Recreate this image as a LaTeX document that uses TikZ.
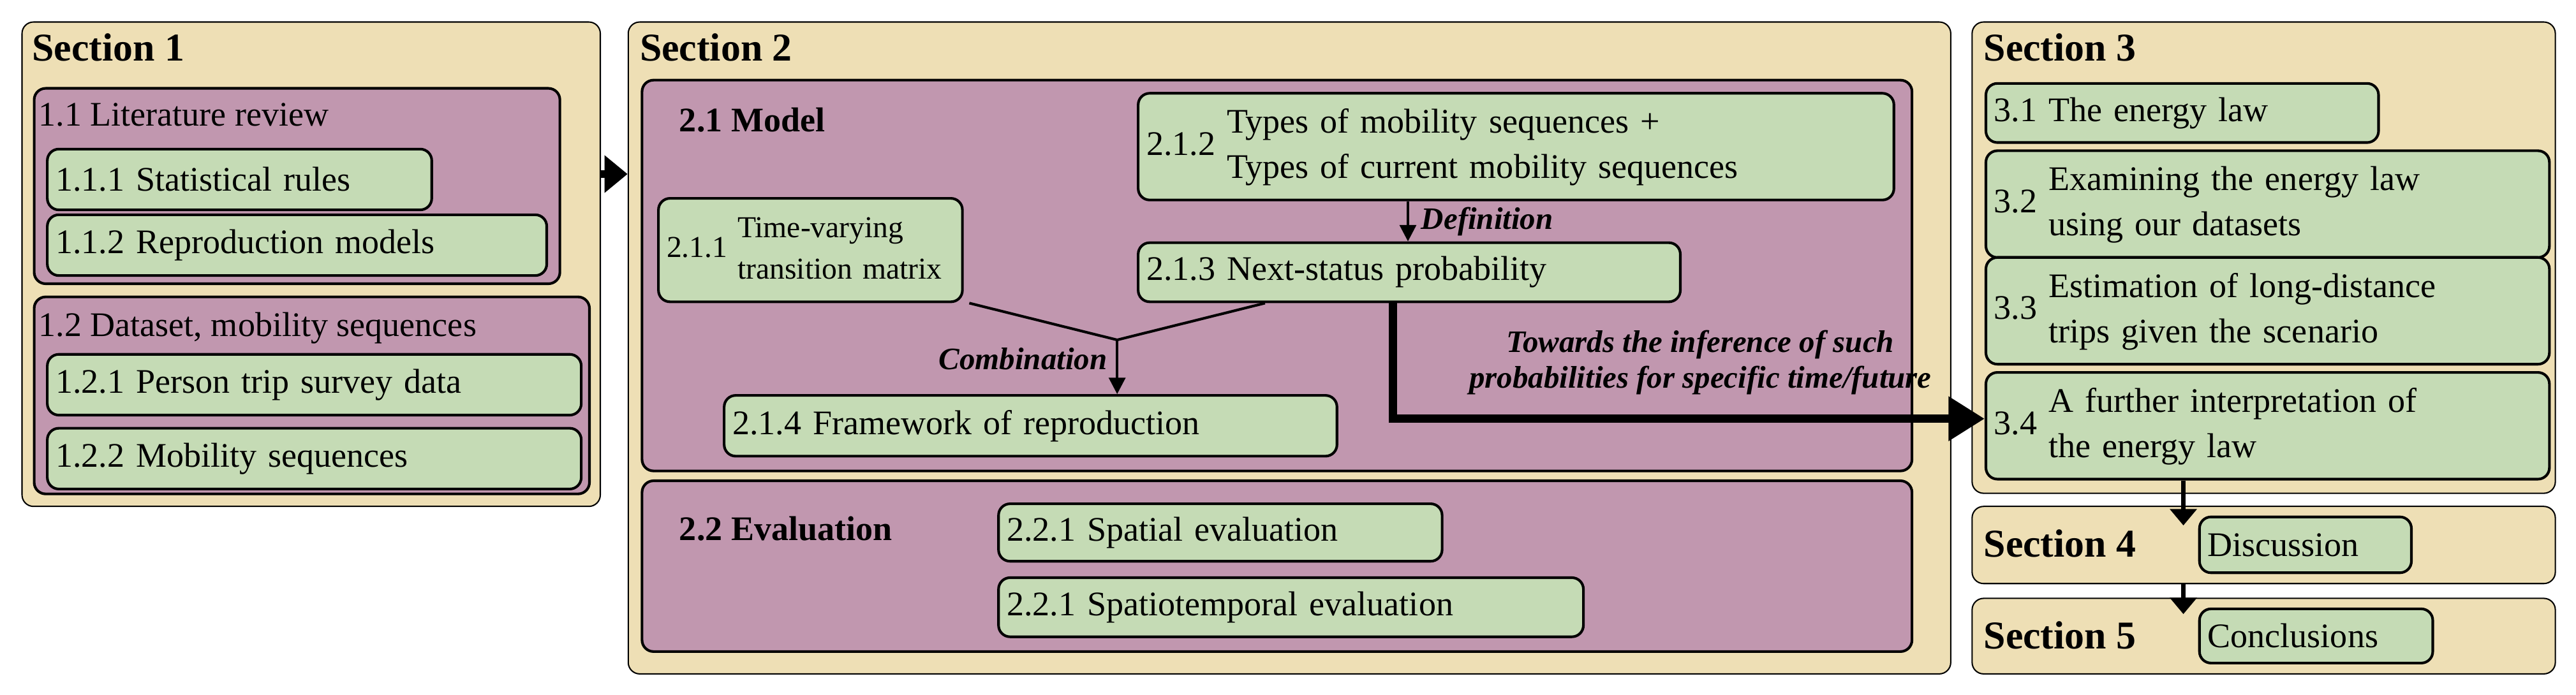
\documentclass[tikz,border=0pt]{standalone}
\usepackage{fontspec}
\setmainfont{Liberation Serif}
\usetikzlibrary{arrows.meta}
\definecolor{tan}{HTML}{EEDFB5}
\definecolor{pur}{HTML}{C197AF}
\definecolor{grn}{HTML}{C5DBB5}
\newcommand\two[3]{#1~\begin{tabular}[c]{@{}l@{}}#2\\#3\end{tabular}}
\begin{document}
\begin{tikzpicture}[x=1pt,y=-1pt,
  box/.style={draw=black,line width=1.6pt,rounded corners=7pt,anchor=north west,inner sep=0pt},
  sec/.style={box,fill=tan,line width=0.8pt},
  mid/.style={box,fill=pur},
  leaf/.style={draw=black,line width=1.6pt,rounded corners=7pt,fill=grn,anchor=north west,inner sep=5pt,align=left,font=\fontsize{21}{25}\selectfont},
  stitle/.style={anchor=west,font=\fontsize{24}{28}\selectfont\bfseries},
  mtitle/.style={anchor=west,font=\fontsize{21}{25}\selectfont},
  lab/.style={font=\fontsize{19}{22}\selectfont\bfseries\itshape},
  arr/.style={-{Triangle[length=10pt,width=10pt]},line width=1.6pt},
  big/.style={-{Triangle[length=22pt,width=26pt]},line width=5pt}]
\renewcommand\arraystretch{1.1}
\useasboundingbox (0,0) rectangle (1568,423);
% Section 1
\node[sec,minimum width=352,minimum height=295] (s1) at (13,13) {};
\node[stitle] (s1t) at (16,29) {Section 1};
\node[mid,minimum width=320,minimum height=119] (m11) at (20,53) {};
\node[mtitle] (m11t) at (20,70) {1.1 Literature review};
\node[leaf,text width=224,minimum height=37] (l111) at (28,90) {1.1.1 Statistical rules};
\node[leaf,text width=294,minimum height=37] (l112) at (28,130) {1.1.2 Reproduction models};
\node[mid,minimum width=338,minimum height=120] (m12) at (20,180) {};
\node[mtitle] (m12t) at (20,200) {1.2 Dataset, mobility sequences};
\node[leaf,text width=315,minimum height=37] (l121) at (28,215) {1.2.1 Person trip survey data};
\node[leaf,text width=315,minimum height=37] (l122) at (28,260) {1.2.2 Mobility sequences};
% Section 2
\node[sec,minimum width=805,minimum height=397] (s2) at (382,13) {};
\node[stitle] (s2t) at (386,29) {Section 2};
\draw[line width=5pt,-{Triangle[length=14pt,width=22pt]}] (s1.east |- 0,106) -- (s2.west |- 0,106);
\node[mid,minimum width=773,minimum height=238] (m21) at (390,48) {};
\node[stitle,font=\fontsize{21}{25}\selectfont\bfseries] (m21t) at (410,73) {2.1 Model};
\node[leaf,text width=450,minimum height=64] (l212) at (692,56) {\two{2.1.2}{Types of mobility sequences +}{Types of current mobility sequences}};
\node[leaf,text width=175,minimum height=63,font=\fontsize{18.5}{23}\selectfont] (l211) at (400,120) {\two{2.1.1}{Time-varying}{transition matrix}};
\node[leaf,text width=320,minimum height=36] (l213) at (692,147) {2.1.3 Next-status probability};
\node[leaf,text width=363,minimum height=37] (l214) at (440,240) {2.1.4 Framework of reproduction};
\draw[arr] (l212.south -| 857,0) -- (l213.north -| 857,0) node[lab,midway,right=4pt] (def) {Definition};
\coordinate (j) at (680,207);
\draw[line width=1.6pt] (l211.south -| 590,0) -- (j) -- (l213.south -| 770,0);
\draw[arr] (j) -- (l214.north -| 680,0) node[lab,pos=0.35,left=2pt] (comb) {Combination};
\node[mid,minimum width=773,minimum height=104] (m22) at (390,292) {};
\node[stitle,font=\fontsize{21}{25}\selectfont\bfseries] (m22t) at (410,322) {2.2 Evaluation};
\node[leaf,text width=260,minimum height=35] (l221) at (607,306) {2.2.1 Spatial evaluation};
\node[leaf,text width=346,minimum height=36] (l222) at (607,351) {2.2.1 Spatiotemporal evaluation};
% Section 3
\node[sec,minimum width=355,minimum height=287] (s3) at (1200,13) {};
\node[stitle] (s3t) at (1204,29) {Section 3};
\node[leaf,text width=229,minimum height=36] (l31) at (1208,50) {3.1 The energy law};
\node[leaf,text width=333,minimum height=60] (l32) at (1208,91) {\two{3.2}{Examining the energy law}{using our datasets}};
\node[leaf,text width=333,minimum height=62] (l33) at (1208,156) {\two{3.3}{Estimation of long-distance}{trips given the scenario}};
\node[leaf,text width=333,minimum height=62] (l34) at (1208,226) {\two{3.4}{A further interpretation of}{the energy law}};
\draw[big] (l213.south -| 848,0) -- (848,255) -- (l34.west |- 0,255);
\node[lab,align=center,anchor=south] (tow) at (1035,244) {Towards the inference of such\\probabilities for specific time/future};
% Section 4,5
\node[sec,minimum width=355,minimum height=47] (s4) at (1200,308) {};
\node[stitle] (s4t) at (1204,331) {Section 4};
\node[leaf,text width=119,minimum height=34] (disc) at (1338,314) {Discussion};
\node[sec,minimum width=355,minimum height=46] (s5) at (1200,364) {};
\node[stitle] (s5t) at (1204,387) {Section 5};
\node[leaf,text width=132,minimum height=33] (conc) at (1338,370) {Conclusions};
\draw[line width=3pt,-{Triangle[length=10pt,width=16pt]}] (l34.south -| 1329,0) -- (1329,320);
\draw[line width=3pt,-{Triangle[length=10pt,width=16pt]}] (s4.south -| 1329,0) -- (1329,374);
\end{tikzpicture}
\end{document}
